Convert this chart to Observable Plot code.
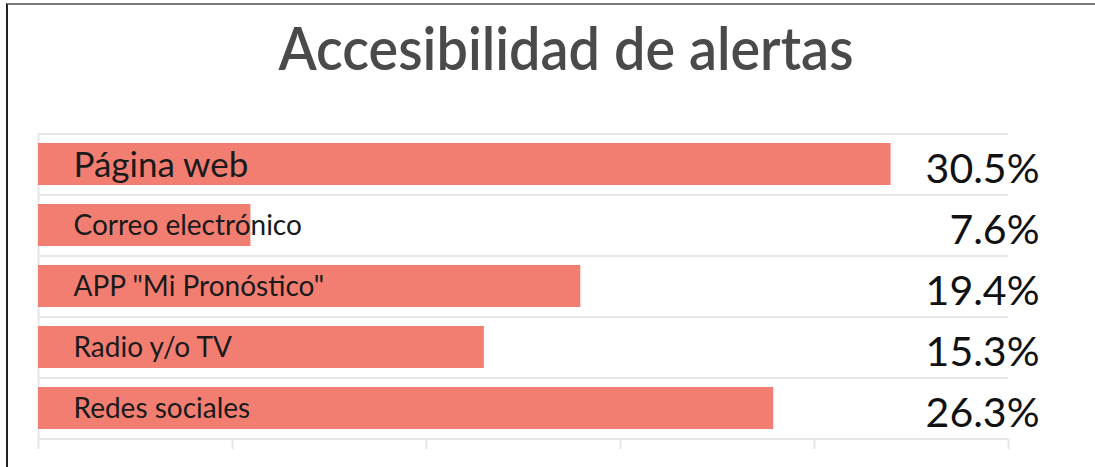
<!DOCTYPE html>
<html>
<head>
<meta charset="utf-8">
<script src="https://cdn.jsdelivr.net/npm/d3@7"></script>
<script src="https://cdn.jsdelivr.net/npm/@observablehq/plot@0.6"></script>
<style>
  html, body { margin: 0; padding: 0; background: #fff; }
  #frame { position: absolute; left: 6px; top: 3px; width: 1089px; height: 464px;
           border-top: 2px solid #7a7a7a; border-left: 2px solid #222; box-sizing: border-box; }
  #title { position: absolute; top: 11px; left: 566px; transform: translateX(-50%) scaleX(0.93);
           font-family: Lato, sans-serif; font-size: 60px; color: #4a4a4a; white-space: nowrap;
           margin: 0; font-weight: 600; line-height: 1.2; }
  #chart { position: absolute; left: 0; top: 110px; }
  #chart svg { overflow: visible; }
  #chart svg [aria-label="x-axis tick"] { stroke-width: 2; }
</style>
</head>
<body>
<div id="frame"></div>
<h1 id="title">Accesibilidad de alertas</h1>
<div id="chart"></div>
<script>
const categories = ["Página web", "Correo electrónico", "APP \"Mi Pronóstico\"", "Radio y/o TV", "Redes sociales"];
const values = [30.5, 7.6, 19.4, 15.95, 26.3];
const valueLabels = ["30.5%", "7.6%", "19.4%", "15.3%", "26.3%"];
const xMax = 34.7;
const xTicks = [0, 6.94, 13.88, 20.82, 27.76, 34.7];

const data = categories.map((c, i) => ({cat: c, value: values[i], label: valueLabels[i]}));
const step = 306 / 5;

const plot = Plot.plot({
  width: 1095,
  height: 357,
  marginLeft: 38,
  marginRight: 87,
  marginTop: 23,
  marginBottom: 28,
  style: {fontFamily: "Lato, sans-serif", overflow: "visible", color: "#e6e6e6"},
  x: {domain: [0, xMax], ticks: xTicks, tickSize: 10, tickFormat: () => "", label: null},
  y: {domain: categories, paddingInner: 0.31, paddingOuter: 0.155, axis: null},
  marks: [
    Plot.ruleY(categories, {y: d => d, dy: -step / 2, stroke: "#e6e6e6", strokeWidth: 2, x1: 0, x2: xMax}),
    Plot.ruleY([categories[categories.length - 1]], {y: d => d, dy: step / 2, stroke: "#e6e6e6", strokeWidth: 2, x1: 0, x2: xMax}),
    Plot.ruleX([0], {stroke: "#e6e6e6", strokeWidth: 2}),
    Plot.barX(data, {x: "value", y: "cat", fill: "#f27e72"}),
    Plot.text(data, {x: 0, y: "cat", text: "cat", textAnchor: "start", dx: 35, dy: 1,
      fontSize: d => d.cat === "Página web" ? 35 : 28, fill: "#1a1a1a"}),
    Plot.text(data, {x: xMax, y: "cat", text: "label", textAnchor: "end", dx: 31, dy: 5,
      fontSize: 41, fill: "#111"})
  ]
});
document.getElementById("chart").appendChild(plot);
</script>
</body>
</html>
